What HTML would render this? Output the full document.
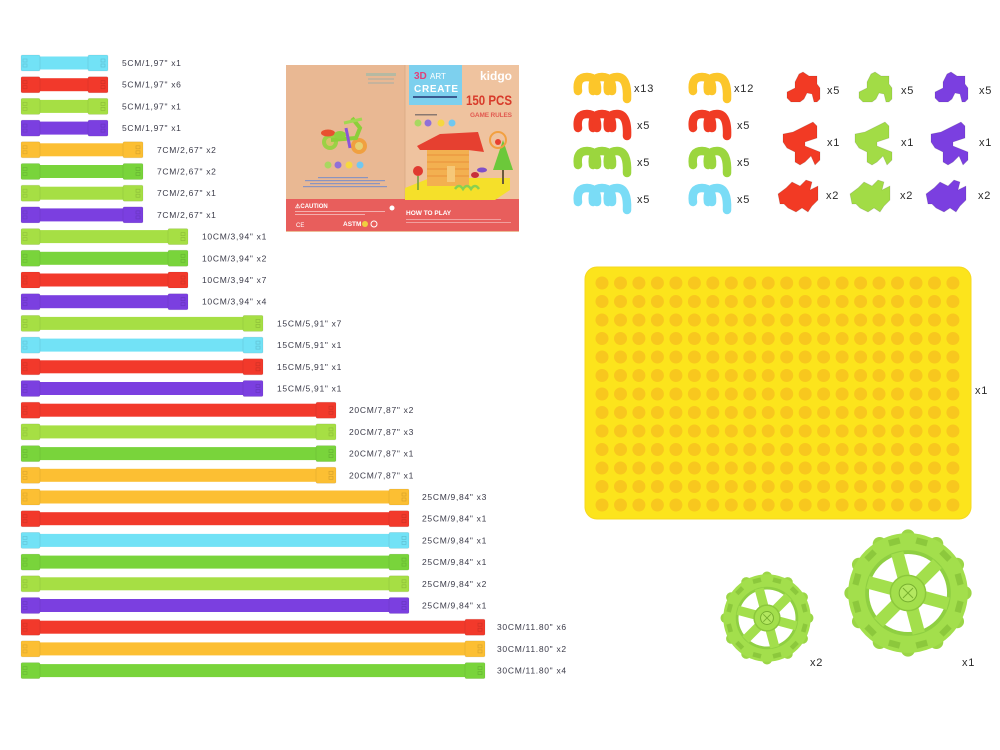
<!DOCTYPE html>
<html><head><meta charset="utf-8"><style>
html,body{margin:0;padding:0;background:#fff;}
body{width:1000px;height:750px;overflow:hidden;position:relative;}
svg{position:absolute;left:0;top:0;}
.lbl{font-family:"Liberation Sans",sans-serif;font-size:8.5px;fill:#3a3a48;letter-spacing:0.7px;}
.cnt{font-family:"Liberation Sans",sans-serif;font-size:11px;fill:#2a2a2a;letter-spacing:0.8px;}
</style></head><body>
<svg width="1000" height="750" viewBox="0 0 1000 750" xmlns="http://www.w3.org/2000/svg">

<!-- STRIPS -->
<g id="strips"></g>

<!-- BOX -->
<g>
  <rect x="286" y="65" width="233" height="167" fill="#ecbd98"/>
  <rect x="286" y="65" width="119" height="135" fill="#e9b893"/>
  <rect x="405" y="65" width="114" height="135" fill="#efc39f"/>
  <line x1="405" y1="65" x2="405" y2="200" stroke="#d9a883" stroke-width="0.8"/>
  <rect x="286" y="199" width="233" height="32" fill="#e85e5c"/>
  <rect x="366" y="73" width="30" height="3" fill="#9fb9a8" opacity="0.7"/>
  <rect x="368" y="78" width="26" height="2" fill="#b8b0a0" opacity="0.7"/>
  <rect x="368" y="82" width="26" height="2" fill="#b8b0a0" opacity="0.7"/>
  <circle cx="330" cy="142" r="8" fill="#9bd145"/>
  <circle cx="330" cy="142" r="4" fill="#d7c26a"/>
  <circle cx="359" cy="146" r="8" fill="#f0a040"/>
  <circle cx="359" cy="146" r="4" fill="#e6d070"/>
  <path d="M331 140 L356 138 L360 128 L352 118" stroke="#8ccf3a" stroke-width="4" fill="none"/>
  <ellipse cx="328" cy="133" rx="7" ry="3.5" fill="#e85030"/>
  <path d="M346 128 L350 148" stroke="#8b55d8" stroke-width="3"/>
  <path d="M344 123 L362 119" stroke="#a0d850" stroke-width="3"/>
  <ellipse cx="340" cy="135" rx="6" ry="4" fill="#8fd040"/>
  <circle cx="328" cy="165" r="3.5" fill="#a8d860"/>
  <circle cx="338" cy="165" r="3.5" fill="#9070d8"/>
  <circle cx="349" cy="165" r="3.5" fill="#f6d840"/>
  <circle cx="360" cy="165" r="3.5" fill="#70c8f0"/>
  <rect x="318" y="177" width="50" height="1.2" fill="#8a94c0"/>
  <rect x="305" y="180" width="80" height="1.2" fill="#8a94c0"/>
  <rect x="310" y="183" width="70" height="1.2" fill="#8a94c0"/>
  <rect x="303" y="186" width="84" height="1.2" fill="#8a94c0"/>
  <rect x="409" y="65" width="53" height="40" fill="#7dd0ee"/>
  <text x="414" y="79" font-family="Liberation Sans,sans-serif" font-weight="bold" font-size="10" fill="#e0407a">3D</text>
  <text x="430" y="79" font-family="Liberation Sans,sans-serif" font-size="8" fill="#fff">ART</text>
  <text x="414" y="92" font-family="Liberation Sans,sans-serif" font-weight="bold" font-size="10" fill="#fff" textLength="44">CREATE</text>
  <rect x="413" y="96" width="44" height="2" fill="#3a5a90"/>
  <text x="480" y="80" font-family="Liberation Sans,sans-serif" font-weight="bold" font-size="12" fill="#fff">kidgo</text>
  <text x="466" y="105" font-family="Liberation Sans,sans-serif" font-weight="bold" font-size="14" fill="#d83a2a" textLength="46" lengthAdjust="spacingAndGlyphs">150 PCS</text>
  <text x="470" y="117" font-family="Liberation Sans,sans-serif" font-weight="bold" font-size="6.5" fill="#e25a50" textLength="42">GAME RULES</text>
  <rect x="415" y="114" width="22" height="1.5" fill="#8a7870"/>
  <circle cx="418" cy="123" r="3.5" fill="#a8d860"/>
  <circle cx="428" cy="123" r="3.5" fill="#9070d8"/>
  <circle cx="441" cy="123" r="3.5" fill="#f6d840"/>
  <circle cx="452" cy="123" r="3.5" fill="#70c8f0"/>
  <polygon points="405,188 430,178 510,178 510,190 495,200 405,200" fill="#f5e02a"/>
  <rect x="427" y="148" width="42" height="38" fill="#f3b050"/>
  <g stroke="#e8903a" stroke-width="1">
    <line x1="427" y1="155" x2="469" y2="155"/><line x1="427" y1="162" x2="469" y2="162"/><line x1="427" y1="169" x2="469" y2="169"/><line x1="427" y1="176" x2="469" y2="176"/>
  </g>
  <polygon points="417,146 440,134 478,132 484,152 468,150 420,150" fill="#e64030"/>
  <rect x="447" y="166" width="8" height="16" fill="#f6c878"/>
  <circle cx="418" cy="171" r="5" fill="#e03a30"/>
  <path d="M418 176 L418 190" stroke="#6a9e3a" stroke-width="1.5"/>
  <polygon points="503,140 493,170 513,170" fill="#6cc83a"/>
  <rect x="502" y="170" width="2" height="14" fill="#6a5a3a"/>
  <circle cx="498" cy="140" r="8" fill="none" stroke="#f2a040" stroke-width="2"/>
  <circle cx="498" cy="142" r="3" fill="#e84030"/>
  <ellipse cx="482" cy="170" rx="5" ry="2.5" fill="#8050c8"/>
  <ellipse cx="475" cy="175" rx="4" ry="3" fill="#c8303a"/>
  <path d="M455 189 q4 -6 8 0 q4 -6 8 0 q4 -6 8 0" stroke="#8ad050" stroke-width="2.5" fill="none"/>
  <text x="295" y="208" font-family="Liberation Sans,sans-serif" font-size="6" fill="#fff" font-weight="bold">⚠CAUTION</text>
  <rect x="295" y="211" width="90" height="1" fill="#fff" opacity="0.5"/>
  <rect x="295" y="214" width="70" height="1" fill="#fff" opacity="0.5"/>
  <text x="296" y="227" font-family="Liberation Sans,sans-serif" font-size="6" fill="#fff">CE</text>
  <text x="343" y="226" font-family="Liberation Sans,sans-serif" font-size="6.5" fill="#fff" font-weight="bold">ASTM</text>
  <circle cx="365" cy="224" r="3" fill="#f0d040"/>
  <circle cx="374" cy="224" r="3" fill="none" stroke="#fff" stroke-width="1"/>
  <circle cx="392" cy="208" r="2.5" fill="#fff"/>
  <text x="406" y="215" font-family="Liberation Sans,sans-serif" font-size="6.5" fill="#fff" font-weight="bold">HOW TO PLAY</text>
  <rect x="406" y="219" width="95" height="1" fill="#fff" opacity="0.4"/>
  <rect x="406" y="222" width="105" height="1" fill="#fff" opacity="0.4"/>
</g>

<g id="arches"></g>
<g id="blocks"></g>

<g class="cnt">
  <text x="634" y="92" class="cnt">x13</text>
  <text x="637" y="129" class="cnt">x5</text>
  <text x="637" y="166" class="cnt">x5</text>
  <text x="637" y="203" class="cnt">x5</text>
  <text x="734" y="92" class="cnt">x12</text>
  <text x="737" y="129" class="cnt">x5</text>
  <text x="737" y="166" class="cnt">x5</text>
  <text x="737" y="203" class="cnt">x5</text>
  <text x="827" y="94" class="cnt">x5</text>
  <text x="827" y="146" class="cnt">x1</text>
  <text x="826" y="199" class="cnt">x2</text>
  <text x="901" y="94" class="cnt">x5</text>
  <text x="901" y="146" class="cnt">x1</text>
  <text x="900" y="199" class="cnt">x2</text>
  <text x="979" y="94" class="cnt">x5</text>
  <text x="979" y="146" class="cnt">x1</text>
  <text x="978" y="199" class="cnt">x2</text>
  <text x="975" y="394" class="cnt">x1</text>
  <text x="810" y="666" class="cnt">x2</text>
  <text x="962" y="666" class="cnt">x1</text>
</g>

<rect x="585" y="267" width="386" height="252" rx="12" ry="12" fill="#fce41c" stroke="#f6d820" stroke-width="1"/>
<g id="dots" fill="#f8c71e"></g>

<g id="wheels"></g>
</svg>

<script>
(function(){
var NS="http://www.w3.org/2000/svg";
function el(tag,attrs,parent){var e=document.createElementNS(NS,tag);for(var k in attrs)e.setAttribute(k,attrs[k]);if(parent)parent.appendChild(e);return e;}
var C={c:"#72e2f6",r:"#f2392b",l:"#a6df44",g:"#79d43b",p:"#7b3fe0",o:"#fcbf33"};
var ends={5:108,7:143,10:188,15:263,20:336,25:409,30:485};
var lx={5:122,7:157,10:202,15:277,20:349,25:422,30:497};
var lab={5:'5CM/1,97"',7:'7CM/2,67"',10:'10CM/3,94"',15:'15CM/5,91"',20:'20CM/7,87"',25:'25CM/9,84"',30:'30CM/11.80"'};
var rows=[["c",5,1],["r",5,6],["l",5,1],["p",5,1],["o",7,2],["g",7,2],["l",7,1],["p",7,1],["l",10,1],["g",10,2],["r",10,7],["p",10,4],["l",15,7],["c",15,1],["r",15,1],["p",15,1],["r",20,2],["l",20,3],["g",20,1],["o",20,1],["o",25,3],["r",25,1],["c",25,1],["g",25,1],["l",25,2],["p",25,1],["r",30,6],["o",30,2],["g",30,4]];
var S=document.getElementById("strips");
rows.forEach(function(r,i){
  var cy=63+i*21.7, col=C[r[0]], e=ends[r[1]];
  el("rect",{x:21,y:cy-6.5,width:e-21,height:13,fill:col},S);
  el("rect",{x:21,y:cy-8,width:19,height:16,rx:1.5,fill:col,stroke:"#000","stroke-opacity":0.08,"stroke-width":0.8},S);
  el("rect",{x:e-20,y:cy-8,width:20,height:16,rx:1.5,fill:col,stroke:"#000","stroke-opacity":0.08,"stroke-width":0.8},S);
  el("rect",{x:23,y:cy-4,width:4,height:3,fill:"none",stroke:"#000","stroke-opacity":0.12,"stroke-width":0.7},S);
  el("rect",{x:23,y:cy+1,width:4,height:3,fill:"none",stroke:"#000","stroke-opacity":0.12,"stroke-width":0.7},S);
  el("rect",{x:e-7,y:cy-4,width:4,height:3,fill:"none",stroke:"#000","stroke-opacity":0.15,"stroke-width":0.7},S);
  el("rect",{x:e-7,y:cy+1,width:4,height:3,fill:"none",stroke:"#000","stroke-opacity":0.15,"stroke-width":0.7},S);
  var t=el("text",{x:lx[r[1]],y:cy+3,"class":"lbl"},S);
  t.textContent=lab[r[1]]+" x"+r[2];
});
var A=document.getElementById("arches");
var acol=["#fcc62a","#f03b24","#9bd63e","#7adcf6"];
var ays=[74,111,148,185];
function arch(x0,y0,n,col){
  var g=el("g",{},A);
  for(var i=n-1;i>=0;i--){
    var x=x0+i*15;
    var bot=(i==n-1)?25:17;
    el("path",{d:"M"+(x+5)+" "+(y0+17)+" Q"+(x+3)+" "+(y0+3)+" "+(x+14)+" "+(y0+3)+" Q"+(x+25)+" "+(y0+3)+" "+(x+24)+" "+(y0+bot),fill:"none",stroke:col,"stroke-width":8.5,"stroke-linecap":"round"},g);
  }
}
for(var k=0;k<4;k++){arch(573,ays[k],3,acol[k]);arch(688,ays[k],2,acol[k]);}
var B=document.getElementById("blocks");
var shp=[
 {o:[787,72],p:"12,2 16,0 22,4 30,4 30,12 33,16 33,27 30,30 27,30 25,22 20,21 17,27 13,30 4,30 0,26 0,20 8,16 8,10"},
 {o:[783,122],p:"10,10 30,0 34,4 34,16 22,20 22,24 37,30 37,38 32,43 28,34 22,40 17,43 12,40 12,30 4,26 0,20 0,12"},
 {o:[778,178],p:"0,16 8,10 14,4 22,8 28,2 34,4 32,12 40,8 40,22 34,28 30,34 24,30 18,34 10,30 6,26 2,26"}
];
var bc=["#f23a24","#a2dc46","#7b3fe0"], bo=[0,72,148];
for(var c=0;c<3;c++)shp.forEach(function(s){
  var g=el("g",{transform:"translate("+(s.o[0]+bo[c])+","+s.o[1]+")"},B);
  el("polygon",{points:s.p,fill:bc[c],stroke:"#000","stroke-opacity":0.12,"stroke-width":0.8,"stroke-linejoin":"round"},g);
});
var D=document.getElementById("dots");
for(var r=0;r<13;r++)for(var q=0;q<20;q++)el("circle",{cx:(602+q*18.47).toFixed(1),cy:(283+r*18.5).toFixed(1),r:6.5},D);
var W=document.getElementById("wheels");
function wheel(cx,cy,R){
  var g=el("g",{},W);
  var n=12;
  for(var i=0;i<n;i++){var a=i*2*Math.PI/n;el("circle",{cx:cx+Math.cos(a)*R*0.9,cy:cy+Math.sin(a)*R*0.9,r:R*0.11,fill:"#9bd646"},g);}
  el("circle",{cx:cx,cy:cy,r:R*0.95,fill:"#a3df4c"},g);
  for(var i=0;i<n;i++){var a=(i+0.5)*2*Math.PI/n;var x=cx+Math.cos(a)*R*0.84,y=cy+Math.sin(a)*R*0.84;
    el("rect",{x:x-R*0.09,y:y-R*0.05,width:R*0.18,height:R*0.1,fill:"#8cc83c",transform:"rotate("+(a*180/Math.PI+90)+" "+x+" "+y+")"},g);}
  el("circle",{cx:cx,cy:cy,r:R*0.68,fill:"#8fcf42"},g);
  el("circle",{cx:cx,cy:cy,r:R*0.62,fill:"#ffffff"},g);
  for(var i=0;i<3;i++){var ang=i*60+15;
    el("rect",{x:cx-R*0.66,y:cy-R*0.1,width:R*1.32,height:R*0.2,fill:"#a3df4c",transform:"rotate("+ang+" "+cx+" "+cy+")"},g);}
  el("circle",{cx:cx,cy:cy,r:R*0.28,fill:"#a3df4c",stroke:"#8cc83c","stroke-width":1.5},g);
  el("circle",{cx:cx,cy:cy,r:R*0.14,fill:"#b4e860",stroke:"#78b030","stroke-width":1},g);
  var d=R*0.08;
  el("path",{d:"M"+(cx-d)+" "+(cy-d)+" L"+(cx+d)+" "+(cy+d)+" M"+(cx+d)+" "+(cy-d)+" L"+(cx-d)+" "+(cy+d),stroke:"#78b030","stroke-width":1},g);
}
wheel(767,618,46);
wheel(908,593,63);
})();
</script>
</body></html>
